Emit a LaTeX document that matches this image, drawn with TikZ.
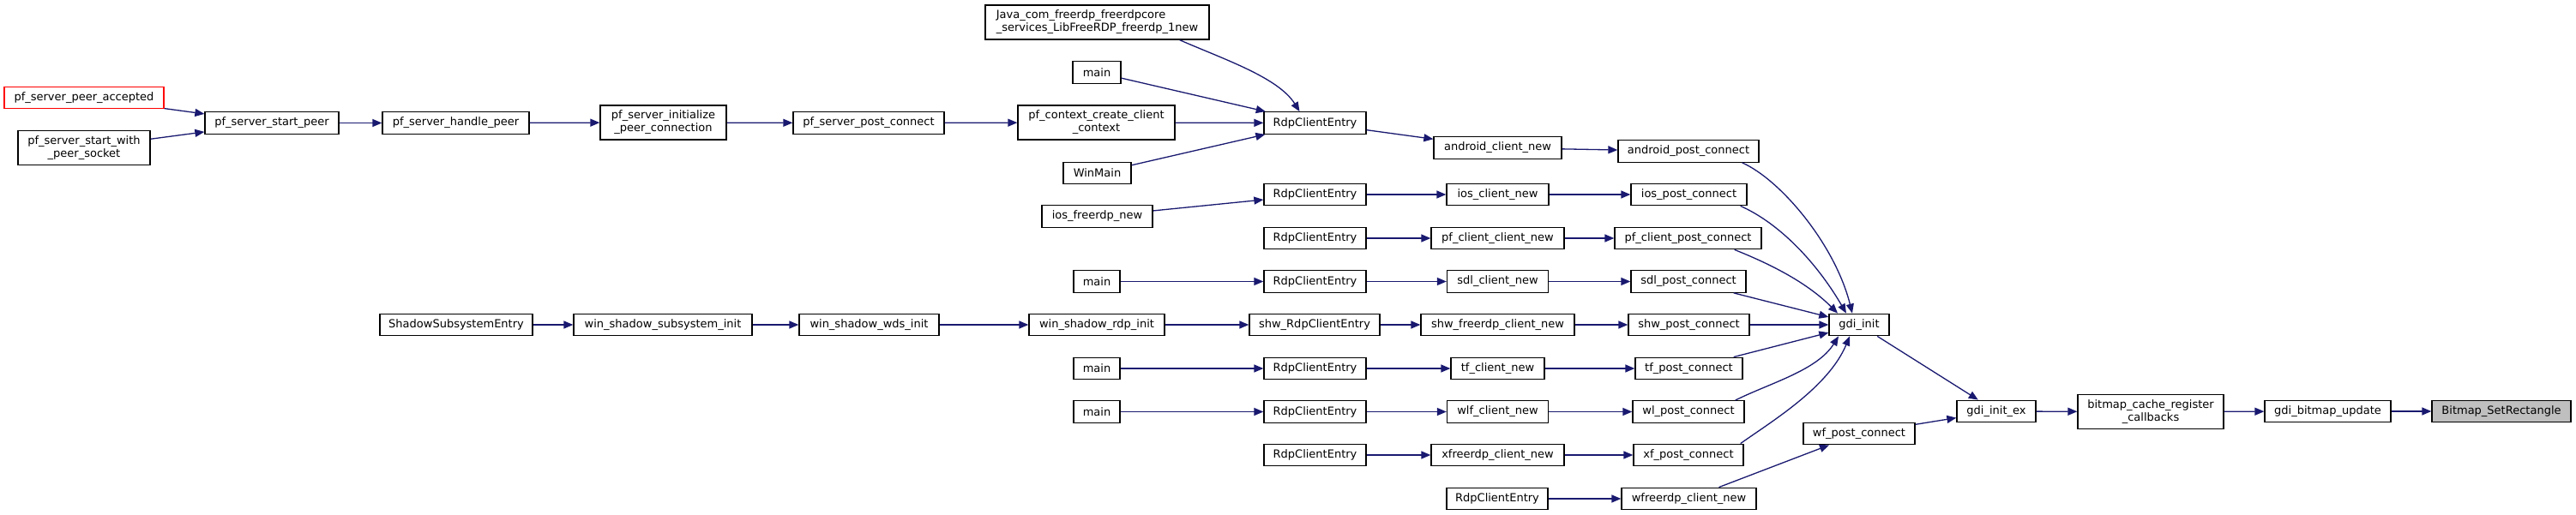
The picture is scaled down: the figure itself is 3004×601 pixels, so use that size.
\documentclass[tikz,border=0pt]{standalone}
\usepackage{fontspec}
\setmainfont{DejaVu Sans}
\usepackage{tikz}
\usetikzlibrary{arrows.meta}

\definecolor{edgeblue}{HTML}{191970}
\definecolor{leafgray}{HTML}{BFBFBF}

\begin{document}
\begin{tikzpicture}[x=1pt,y=-1pt,font=\fontsize{13}{15}\selectfont,
  fn/.style={draw=black,fill=white,line width=1.3pt,inner xsep=2pt,inner ysep=0pt,minimum height=25.5pt,align=center},
  fn2/.style={fn,minimum height=40pt},
  edge/.style={draw=edgeblue,line width=1.3pt,-{Triangle[length=11pt,width=9pt]}}]
  \useasboundingbox (0,0) rectangle (3004,601);

  % pf_server chain
  \node[fn,draw=red,minimum width=186pt] (accepted) at (98,114) {pf\_server\_peer\_accepted};
  \node[fn2,minimum width=154pt] (startsock) at (98,172.5) {pf\_server\_start\_with\\\_peer\_socket};
  \node[fn,minimum width=156pt] (startpeer) at (317,143.5) {pf\_server\_start\_peer};
  \node[fn,minimum width=171pt] (handlepeer) at (531.5,143.5) {pf\_server\_handle\_peer};
  \node[fn2,minimum width=147pt] (initconn) at (773.5,143) {pf\_server\_initialize\\\_peer\_connection};
  \node[fn,minimum width=176pt] (srvpost) at (1013,143.5) {pf\_server\_post\_connect};
  \node[fn2,minimum width=183pt] (ctxcreate) at (1278.5,143) {pf\_context\_create\_client\\\_context};
  \node[fn2,align=left,minimum width=261pt] (javanew) at (1279.5,26) {Java\_com\_freerdp\_freerdpcore\\\_services\_LibFreeRDP\_freerdp\_1new};
  \node[fn,minimum width=56pt] (mainA) at (1279,84.5) {main};
  \node[fn,minimum width=79pt] (winmain) at (1279.5,202) {WinMain};
  \node[fn,minimum width=119pt] (rdpA) at (1533.5,143.5) {RdpClientEntry};
  \node[fn,minimum width=149pt] (androidnew) at (1746.5,172.5) {android\_client\_new};
  \node[fn,minimum width=164pt] (androidpost) at (1969,176.5) {android\_post\_connect};

  % ios
  \node[fn,minimum width=129pt] (iosfreerdp) at (1279.5,252.5) {ios\_freerdp\_new};
  \node[fn,minimum width=119pt] (rdpB) at (1533.5,227) {RdpClientEntry};
  \node[fn,minimum width=119pt] (iosnew) at (1746.5,227) {ios\_client\_new};
  \node[fn,minimum width=135pt] (iospost) at (1969.5,227) {ios\_post\_connect};

  % pf client
  \node[fn,minimum width=119pt] (rdpC) at (1533.5,278) {RdpClientEntry};
  \node[fn,minimum width=155pt] (pfcnew) at (1746.5,278) {pf\_client\_client\_new};
  \node[fn,minimum width=171pt] (pfcpost) at (1968.5,278) {pf\_client\_post\_connect};

  % sdl
  \node[fn,minimum width=54pt] (mainD) at (1279,328.5) {main};
  \node[fn,minimum width=119pt] (rdpD) at (1533.5,328.5) {RdpClientEntry};
  \node[fn,minimum width=118pt] (sdlnew) at (1746.5,328.5) {sdl\_client\_new};
  \node[fn,minimum width=134pt] (sdlpost) at (1969,328.5) {sdl\_post\_connect};

  % shadow
  \node[fn,minimum width=178pt] (shadowentry) at (532,379) {ShadowSubsystemEntry};
  \node[fn,minimum width=208pt] (wsubinit) at (773,379) {win\_shadow\_subsystem\_init};
  \node[fn,minimum width=163pt] (wdsinit) at (1013.5,379) {win\_shadow\_wds\_init};
  \node[fn,minimum width=158pt] (wrdpinit) at (1279,379) {win\_shadow\_rdp\_init};
  \node[fn,minimum width=152pt] (shwrdp) at (1533,379) {shw\_RdpClientEntry};
  \node[fn,minimum width=179pt] (shwnew) at (1746.5,379) {shw\_freerdp\_client\_new};
  \node[fn,minimum width=141pt] (shwpost) at (1969.5,379) {shw\_post\_connect};
  \node[fn,minimum width=70pt] (gdiinit) at (2168,379) {gdi\_init};

  % tf
  \node[fn,minimum width=54pt] (mainF) at (1279,430) {main};
  \node[fn,minimum width=119pt] (rdpF) at (1533.5,430) {RdpClientEntry};
  \node[fn,minimum width=109pt] (tfnew) at (1746.5,430) {tf\_client\_new};
  \node[fn,minimum width=125pt] (tfpost) at (1969.5,430) {tf\_post\_connect};

  % wl
  \node[fn,minimum width=54pt] (mainG) at (1279,480.5) {main};
  \node[fn,minimum width=119pt] (rdpG) at (1533.5,480.5) {RdpClientEntry};
  \node[fn,minimum width=118pt] (wlfnew) at (1746.5,480.5) {wlf\_client\_new};
  \node[fn,minimum width=130pt] (wlpost) at (1969,480.5) {wl\_post\_connect};

  % xf
  \node[fn,minimum width=119pt] (rdpH) at (1533.5,531) {RdpClientEntry};
  \node[fn,minimum width=155pt] (xfnew) at (1746.5,531) {xfreerdp\_client\_new};
  \node[fn,minimum width=128pt] (xfpost) at (1969,531) {xf\_post\_connect};

  % wf
  \node[fn,minimum width=118pt] (rdpI) at (1746,582) {RdpClientEntry};
  \node[fn,minimum width=157pt] (wfnew) at (1969.5,582) {wfreerdp\_client\_new};
  \node[fn,minimum width=130pt] (wfpost) at (2168,506) {wf\_post\_connect};

  % tail
  \node[fn,minimum width=92pt] (gdiex) at (2328,480) {gdi\_init\_ex};
  \node[fn2,minimum width=170pt] (bmpcache) at (2508,480.5) {bitmap\_cache\_register\\\_callbacks};
  \node[fn,minimum width=147pt] (bmpupdate) at (2714.5,480) {gdi\_bitmap\_update};
  \node[fn,fill=leafgray,minimum width=162pt] (setrect) at (2917,480) {Bitmap\_SetRectangle};

  \foreach \a/\b in {accepted/startpeer,startsock/startpeer,startpeer/handlepeer,handlepeer/initconn,
      initconn/srvpost,srvpost/ctxcreate,ctxcreate/rdpA,mainA/rdpA,winmain/rdpA,rdpA/androidnew,
      androidnew/androidpost,iosfreerdp/rdpB,rdpB/iosnew,iosnew/iospost,rdpC/pfcnew,pfcnew/pfcpost,
      mainD/rdpD,rdpD/sdlnew,sdlnew/sdlpost,sdlpost/gdiinit,shadowentry/wsubinit,wsubinit/wdsinit,
      wdsinit/wrdpinit,wrdpinit/shwrdp,shwrdp/shwnew,shwnew/shwpost,shwpost/gdiinit,
      mainF/rdpF,rdpF/tfnew,tfnew/tfpost,tfpost/gdiinit,mainG/rdpG,rdpG/wlfnew,wlfnew/wlpost,
      rdpH/xfnew,xfnew/xfpost,rdpI/wfnew,wfnew/wfpost,wfpost/gdiex,gdiinit/gdiex,
      gdiex/bmpcache,bmpcache/bmpupdate,bmpupdate/setrect}
    \draw[edge] (\a) -- (\b);

  % curved ones
  \draw[edge] ([xshift=-35pt]javanew.south east) .. controls +(50,22) and +(-25,-40) .. ([xshift=-18pt]rdpA.north);
  \draw[edge] ([xshift=-20pt]androidpost.south east) .. controls +(45,20) and +(-20,-80) .. ([xshift=-8pt]gdiinit.north);
  \draw[edge] ([xshift=-8pt]iospost.south east) .. controls +(45,20) and +(-35,-60) .. ([xshift=-15pt]gdiinit.north);
  \draw[edge] ([xshift=-32pt]pfcpost.south east) .. controls +(45,18) and +(-35,-35) .. ([xshift=-25pt]gdiinit.north);
  \draw[edge] ([xshift=-11pt]wlpost.north east) .. controls +(40,-20) and +(-25,40) .. ([xshift=-24pt]gdiinit.south);
  \draw[edge] ([xshift=-4pt]xfpost.north east) .. controls +(35,-25) and +(-25,60) .. ([xshift=-11pt]gdiinit.south);
\end{tikzpicture}
\end{document}
